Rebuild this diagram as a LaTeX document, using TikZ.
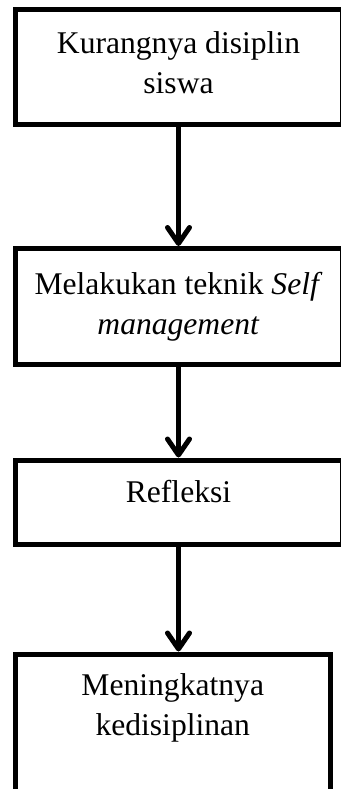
\documentclass[tikz,border=0pt]{standalone}
\usepackage{fontspec}
\setmainfont{Liberation Serif}
\usetikzlibrary{arrows.meta, positioning}

\begin{document}
\begin{tikzpicture}[x=0.5pt, y=-0.5pt,
    kotak/.style={draw, line width=2.5pt, minimum width=163.5pt, inner sep=0pt},
    teks/.style={align=center, inner sep=0pt, font=\fontsize{15.8}{20}\selectfont},
    panah/.style={line width=2.5pt, -{Straight Barb[length=8pt,width=11pt,round]}}]
  \clip (0,0) rectangle (341,789);
  \fill[white] (0,0) rectangle (341,789);

  \node[kotak, minimum height=57.5pt] (kurang) at (178.5,67) {};
  \node[teks, below=12.3pt of kurang.north] {Kurangnya disiplin\\siswa};

  \node[kotak, minimum height=58pt] (teknik) at (178.5,306.5) {};
  \node[teks, below=13pt of teknik.north] {Melakukan teknik \textit{Self}\\\textit{management}};

  \node[kotak, minimum height=42.25pt] (refleksi) at (178.5,502.25) {};
  \node[teks, below=11.25pt of refleksi.north] {Refleksi};

  \node[kotak, minimum width=157.75pt, minimum height=73pt] (disiplin) at (172.75,727) {};
  \node[teks, below=10.75pt of disiplin.north] {Meningkatnya\\kedisiplinan};

  \draw[panah] (kurang) -- (teknik);
  \draw[panah] (teknik) -- (refleksi);
  \draw[panah] (refleksi) -- (refleksi |- disiplin.north);
\end{tikzpicture}
\end{document}
